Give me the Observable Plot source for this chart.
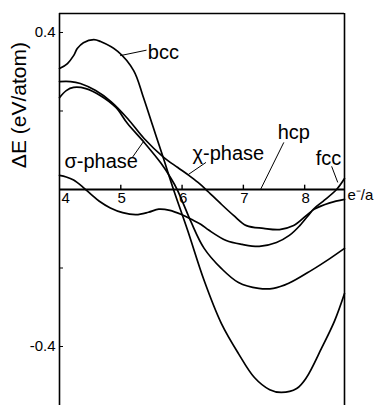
<!DOCTYPE html>
<html><head><meta charset="utf-8">
<script src="https://cdn.jsdelivr.net/npm/d3@7"></script>
<script src="https://cdn.jsdelivr.net/npm/@observablehq/plot@0.6"></script>
<style>
body{margin:0;background:#fff}
#chart{width:374px;height:405px}
</style>
</head><body><div id="chart"></div>
<script>
// ---- data (e-/a vs ΔE in eV/atom, relative to hcp) ----
const bccX = [4.00,4.13,4.23,4.29,4.39,4.56,4.67,4.95,5.21,5.36,5.52,5.68,5.86,6.09,6.36,6.64,6.92,7.18,7.43,7.62,7.87,8.03,8.28,8.49,8.65];
const bccY = [0.308,0.321,0.341,0.359,0.374,0.382,0.377,0.352,0.303,0.239,0.163,0.087,0.0,-0.104,-0.232,-0.341,-0.418,-0.479,-0.510,-0.517,-0.507,-0.479,-0.403,-0.334,-0.265];

const chiX = [4.00,4.18,4.34,4.59,4.84,5.11,5.38,5.70,5.93,6.11,6.26,6.39,6.61,6.84,7.05,7.33,7.59,7.82,8.03,8.16,8.41,8.65];
const chiY = [0.275,0.275,0.270,0.252,0.224,0.181,0.130,0.082,0.056,0.036,0.018,0.0,-0.033,-0.066,-0.092,-0.099,-0.102,-0.092,-0.066,-0.050,-0.034,-0.025];

const sigmaX = [4.00,4.11,4.23,4.43,4.67,4.92,5.11,5.38,5.66,5.82,5.92,6.02,6.15,6.36,6.64,6.92,7.25,7.49,7.74,8.11,8.41,8.65];
const sigmaY = [0.234,0.252,0.260,0.257,0.239,0.209,0.168,0.120,0.066,0.028,0.0,-0.036,-0.084,-0.150,-0.201,-0.237,-0.252,-0.252,-0.239,-0.206,-0.176,-0.150];

const fccX = [4.00,4.11,4.23,4.39,4.52,4.65,4.83,5.03,5.25,5.45,5.62,5.80,5.98,6.15,6.31,6.44,6.72,6.98,7.26,7.54,7.75,7.92,8.07,8.15,8.30,8.52,8.65];
const fccY = [0.036,0.032,0.024,0.005,-0.013,-0.030,-0.047,-0.059,-0.064,-0.058,-0.050,-0.053,-0.063,-0.076,-0.089,-0.104,-0.130,-0.140,-0.145,-0.135,-0.117,-0.092,-0.064,-0.049,-0.030,0.0,0.028];

const hcpY = 0; // reference structure

const xTicks = [4,5,6,7,8];
const xTickLabels = ["4","5","6","7","8"];
const yTicks = [-0.4,-0.2,0.2,0.4];
const yLabelTicks = [-0.4,0.4];
const yLabelText = ["-0.4","0.4"];
const xTitle = "e\u207B/a";
const yTitle = "\u0394E (eV/atom)";

// curve labels and their leader lines (data units)
const labelNames = ["bcc","\u03C3-phase","\u03C7-phase","hcp","fcc"];
const labelX = [5.44,4.08,6.17,7.56,8.18];
const labelY = [0.349,0.071,0.092,0.145,0.079];
const leadX1 = [4.99,5.19,6.10,7.28,8.54];
const leadY1 = [0.341,0.082,0.038,0.000,0.018];
const leadX2 = [5.42,5.37,6.39,7.66,8.44];
const leadY2 = [0.355,0.122,0.069,0.120,0.059];

// ---- build tables ----
const series = [
  {name:"bcc", xs:bccX, ys:bccY},
  {name:"\u03C7-phase", xs:chiX, ys:chiY},
  {name:"\u03C3-phase", xs:sigmaX, ys:sigmaY},
  {name:"fcc", xs:fccX, ys:fccY}
];
const rows = series.flatMap(s => s.xs.map((x,i) => ({name:s.name, x, y:s.ys[i]})));
const labels = labelNames.map((n,i) => ({n, x:labelX[i], y:labelY[i]}));
const leaders = labelNames.map((n,i) => ({x1:leadX1[i], y1:leadY1[i], x2:leadX2[i], y2:leadY2[i]}));
const xt = xTicks.map((v,i) => ({v, t:xTickLabels[i]}));

const X0 = 4, X1 = 8.65, Y0 = -0.5503, Y1 = 0.4484;

const chart = Plot.plot({
  width: 374, height: 405,
  marginLeft: 59, marginRight: 30, marginTop: 13, marginBottom: 0,
  x: {domain: [X0, X1], axis: null},
  y: {domain: [Y0, Y1], axis: null},
  style: {fontFamily: "'Liberation Sans', Arial, sans-serif", background: "white", color: "black", overflow: "visible"},
  marks: [
    // frame: left, right, top
    Plot.ruleX([X0, X1], {stroke: "black", strokeWidth: 1.6}),
    Plot.ruleY([Y1], {stroke: "black", strokeWidth: 1.6}),
    // hcp reference line
    Plot.ruleY([hcpY], {stroke: "black", strokeWidth: 2.2}),
    // y axis ticks (inward) and labels
    Plot.axisY({ticks: yTicks, tickSize: 4, dx: 4, tickFormat: () => "", label: null}),
    Plot.text(yLabelTicks, {x: X0, y: d => d, text: (d,i) => yLabelText[i], textAnchor: "end", dx: -4, fontSize: 15}),
    // x ticks (upward) and labels
    Plot.ruleX(xTicks.slice(1), {x: d => d, y1: 0, y2: 0.011, stroke: "black", strokeWidth: 1.4}),
    Plot.text(xt.slice(0,1), {x: "v", y: 0, text: "t", textAnchor: "start", lineAnchor: "top", dx: 2, dy: 3, fontSize: 15}),
    Plot.text(xt.slice(1), {x: "v", y: 0, text: "t", textAnchor: "middle", lineAnchor: "top", dx: 1, dy: 3, fontSize: 15}),
    Plot.text([xTitle], {x: X1, y: 0, text: d => d, textAnchor: "start", lineAnchor: "top", dx: 3, dy: 0, fontSize: 15}),
    // y title
    Plot.text([yTitle], {x: X0, y: 0.215, text: d => d, rotate: -90, dx: -40, fontSize: 21}),
    // curves
    Plot.line(rows, {x: "x", y: "y", z: "name", curve: "catmull-rom", stroke: "black", strokeWidth: 1.7}),
    // leaders and labels
    Plot.link(leaders, {x1: "x1", y1: "y1", x2: "x2", y2: "y2", stroke: "black", strokeWidth: 1}),
    Plot.text(labels, {x: "x", y: "y", text: "n", textAnchor: "start", fontSize: 20})
  ]
});
document.getElementById("chart").appendChild(chart);
</script>
</body></html>
